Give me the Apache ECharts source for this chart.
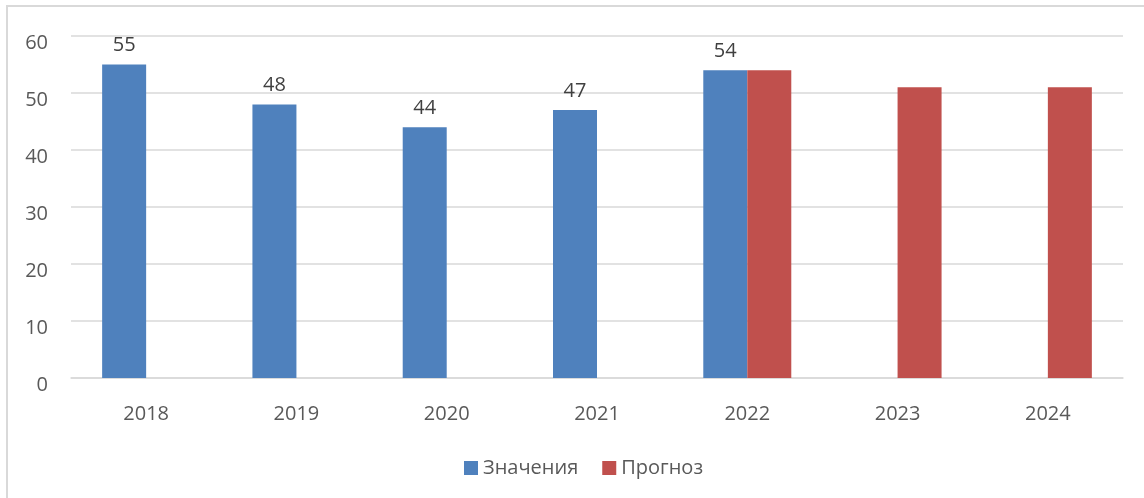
<!DOCTYPE html>
<html><head><meta charset="utf-8">
<script src="https://cdn.jsdelivr.net/npm/echarts@6/dist/echarts.min.js"></script>
<style>html,body{margin:0;padding:0;background:#fff}#c{width:1144px;height:498px}</style>
</head><body><div id="c"></div>
<script>
const categories = ['2018','2019','2020','2021','2022','2023','2024'];
const actualValues = [55, 48, 44, 47, 54, null, null];
const forecastValues = [null, null, null, null, 54, 51, 51];
const yTicks = {min: 0, max: 60, interval: 10};
const seriesNames = ['Значения', 'Прогноз'];

const FONT = '"Open Sans", sans-serif';
const chart = echarts.init(document.getElementById('c'), null, {renderer: 'canvas'});
chart.setOption({
  animation: false,
  backgroundColor: '#fff',
  textStyle: {fontFamily: FONT},
  graphic: [{
    type: 'rect', shape: {x: 7, y: 6, width: 1160, height: 520},
    style: {fill: 'none', stroke: '#d9d9d9', lineWidth: 2}, silent: true, z: -1
  }],
  grid: {left: 71, right: 21, top: 36, bottom: 120, containLabel: false},
  legend: {
    left: 459, top: 453, itemWidth: 14, itemHeight: 14, itemGap: 24,
    icon: 'rect',
    textStyle: {fontFamily: FONT, fontSize: 20, color: '#595959', padding: [4, 0, 0, 0]},
    data: seriesNames
  },
  xAxis: {
    type: 'category', data: categories,
    axisLine: {show: true, lineStyle: {color: '#d9d9d9', width: 1.5}},
    axisTick: {show: false},
    axisLabel: {color: '#595959', fontSize: 20, fontFamily: FONT, margin: 26}
  },
  yAxis: {
    type: 'value', min: yTicks.min, max: yTicks.max, interval: yTicks.interval,
    axisLine: {show: false}, axisTick: {show: false},
    splitLine: {lineStyle: {color: '#d9d9d9', width: 1.5}},
    axisLabel: {
      margin: 23, formatter: '{a|{value}}',
      rich: {a: {color: '#595959', fontSize: 20, fontFamily: FONT, padding: [14, 0, 0, 0]}}
    }
  },
  series: [
    {
      name: seriesNames[0], type: 'bar', data: actualValues, barWidth: 44, barGap: '0%',
      itemStyle: {color: '#4F81BD'},
      label: {show: true, position: 'top', distance: 9, color: '#404040', fontSize: 20, fontFamily: FONT}
    },
    {
      name: seriesNames[1], type: 'bar', data: forecastValues, barWidth: 44, barGap: '0%',
      itemStyle: {color: '#C0504D'}
    }
  ]
});
</script></body></html>
